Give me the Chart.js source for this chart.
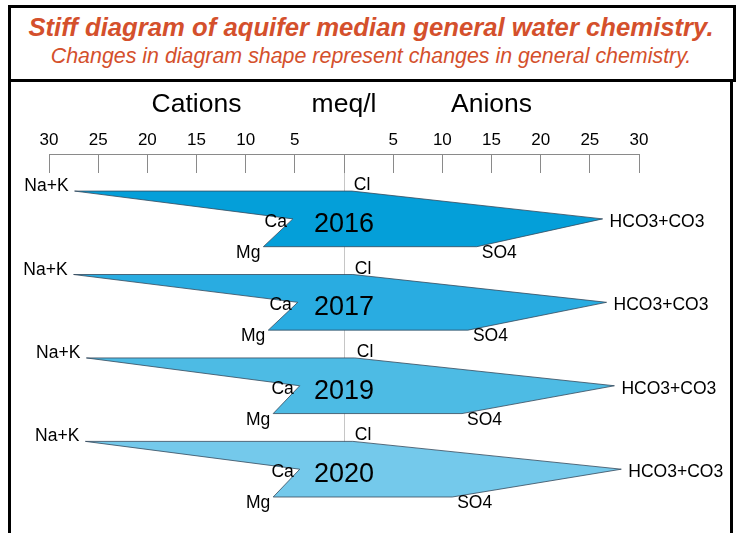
<!DOCTYPE html>
<html>
<head>
<meta charset="utf-8">
<script src="https://cdn.jsdelivr.net/npm/chart.js@4.4.1/dist/chart.umd.min.js"></script>
<style>
  body { margin: 0; background: #fff; }
  #wrap { position: relative; width: 738px; height: 533px; overflow: hidden; font-family: "Liberation Sans", Arial, sans-serif; }
  #head { position: absolute; left: 8px; top: 5px; width: 722px; height: 71px; border: 3px solid #000; }
  #body { position: absolute; left: 8px; top: 79px; width: 719px; height: 470px; border-left: 3px solid #000; border-right: 3px solid #000; }
  .ttl { position: absolute; left: 0; width: 742px; text-align: center; color: #d4502c; font-style: italic; white-space: nowrap; }
  #t1 { top: 12px; font-size: 25.7px; line-height: 30px; font-weight: bold; }
  #t2 { top: 44px; font-size: 21.4px; line-height: 25px; }
  canvas { position: absolute; left: 0; top: 0; }
</style>
</head>
<body>
<div id="wrap">
  <div id="head"></div>
  <div id="body"></div>
  <div class="ttl" id="t1">Stiff diagram of aquifer median general water chemistry.</div>
  <div class="ttl" id="t2">Changes in diagram shape represent changes in general chemistry.</div>
  <canvas id="stiffChart" width="738" height="533"></canvas>
</div>
<script>
// median values, meq/l
var years = ['2016', '2017', '2019', '2020'];
var naK  = [27.4, 27.5, 26.2, 26.3];
var ca   = [5.2, 4.7, 4.5, 4.5];
var mg   = [8.2, 7.7, 7.2, 7.2];
var cl   = [0.8, 0.9, 1.1, 0.9];
var hco3 = [26.3, 26.7, 27.5, 28.2];
var so4  = [13.5, 12.6, 12.0, 11.0];
var fills = ['#049fd9', '#29ace1', '#4dbbe4', '#74c9eb'];
var tickVals = [-30, -25, -20, -15, -10, -5, 0, 5, 10, 15, 20, 25, 30];
var axisWords = ['Cations', 'meq/l', 'Anions'];
var axisWordAt = [-15, 0, 15];

var FONT = '"Liberation Sans", Arial, sans-serif';

var datasets = years.map(function(yr, i) {
    var r = i * 3;
    return {
        label: yr,
        data: [
            {x: -naK[i], y: r}, {x: cl[i], y: r}, {x: hco3[i], y: r + 1},
            {x: so4[i], y: r + 2}, {x: -mg[i], y: r + 2}, {x: -ca[i], y: r + 1},
            {x: -naK[i], y: r}
        ],
        showLine: true,
        fill: 'shape',
        backgroundColor: fills[i],
        borderColor: '#35495c',
        borderWidth: 0.8,
        pointRadius: 0,
        tension: 0,
        clip: false
    };
});

var stiffLabels = {
    id: 'stiffLabels',
    afterDatasetsDraw: function(chart) {
        var ctx = chart.ctx;
        var sx = chart.scales.x, sy = chart.scales.y;
        ctx.save();
        // top axis line
        var yTop = chart.chartArea.top - 19;
        ctx.strokeStyle = '#8a8a8a';
        ctx.lineWidth = 1;
        ctx.beginPath();
        ctx.moveTo(sx.getPixelForValue(-30), Math.round(yTop) + 0.5);
        ctx.lineTo(sx.getPixelForValue(30), Math.round(yTop) + 0.5);
        ctx.stroke();

        ctx.fillStyle = '#000';
        ctx.textBaseline = 'alphabetic';
        ctx.textAlign = 'center';
        ctx.font = '26.5px ' + FONT;
        axisWords.forEach(function(w, k) {
            ctx.fillText(w, sx.getPixelForValue(axisWordAt[k]), 112);
        });

        years.forEach(function(yr, i) {
            var r = i * 3;
            ctx.font = '17.5px ' + FONT;
            ctx.textAlign = 'right';
            ctx.fillText('Na+K', sx.getPixelForValue(-naK[i]) - 6, sy.getPixelForValue(r));
            ctx.fillText('Ca', sx.getPixelForValue(-ca[i]) - 6, sy.getPixelForValue(r + 1) + 8);
            ctx.fillText('Mg', sx.getPixelForValue(-mg[i]) - 3, sy.getPixelForValue(r + 2) + 11);
            ctx.textAlign = 'left';
            ctx.fillText('Cl', sx.getPixelForValue(cl[i]) + 2, sy.getPixelForValue(r) - 1);
            ctx.fillText('HCO3+CO3', sx.getPixelForValue(hco3[i]) + 7, sy.getPixelForValue(r + 1) + 8);
            ctx.fillText('SO4', sx.getPixelForValue(so4[i]) + 5, sy.getPixelForValue(r + 2) + 11);
            ctx.textAlign = 'center';
            ctx.font = '27px ' + FONT;
            ctx.fillText(yr, sx.getPixelForValue(0), sy.getPixelForValue(r + 1) + 13);
        });
        ctx.restore();
    }
};

new Chart(document.getElementById('stiffChart'), {
    type: 'scatter',
    data: { datasets: datasets },
    options: {
        responsive: false,
        animation: false,
        layout: { padding: { left: 49, right: 99, top: 113, bottom: 36 } },
        plugins: {
            legend: { display: false },
            tooltip: { enabled: false },
            title: { display: false }
        },
        scales: {
            x: {
                type: 'linear',
                position: 'top',
                min: -30,
                max: 30,
                afterBuildTicks: function(s) {
                    s.ticks = tickVals.map(function(v) { return {value: v}; });
                },
                afterFit: function(s) { s.height = 60; },
                ticks: {
                    autoSkip: false,
                    maxRotation: 0,
                    padding: 3,
                    color: '#000',
                    font: { family: FONT, size: 17 },
                    callback: function(v) { return v === 0 ? '' : Math.abs(v); }
                },
                grid: {
                    drawOnChartArea: true,
                    tickLength: 19,
                    lineWidth: 1,
                    tickColor: '#8a8a8a',
                    color: function(c) {
                        return c.tick && c.tick.value === 0 ? '#c6c6c6' : 'rgba(0,0,0,0)';
                    }
                },
                border: { display: false }
            },
            y: {
                type: 'linear',
                reverse: true,
                min: -0.65,
                max: 11,
                display: false
            }
        }
    },
    plugins: [stiffLabels]
});
</script>
</body>
</html>
